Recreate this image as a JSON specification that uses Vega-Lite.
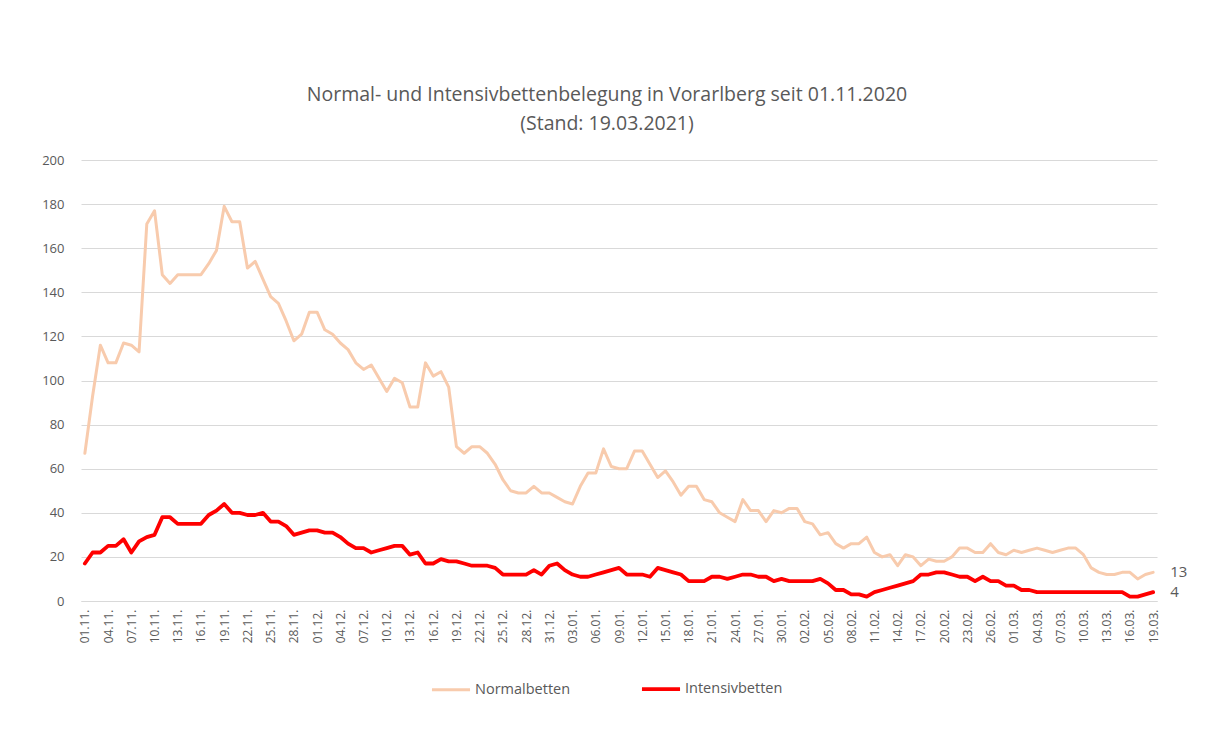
{
  "$schema": "https://vega.github.io/schema/vega-lite/v6.json",
  "width": 1076,
  "height": 441,
  "autosize": {"type": "none"},
  "padding": {"left": 81, "top": 160, "right": 55, "bottom": 130},
  "background": "white",
  "title": {
    "text": ["Normal- und Intensivbettenbelegung in Vorarlberg seit 01.11.2020", "(Stand: 19.03.2021)"],
    "font": "Open Sans",
    "fontSize": 19.5,
    "fontWeight": "normal",
    "color": "#595959",
    "lineHeight": 29,
    "anchor": "middle",
    "offset": 20,
    "dx": -12
  },
  "config": {
    "view": {"stroke": null},
    "font": "Open Sans",
    "axis": {"labelFont": "Open Sans", "labelColor": "#595959"}
  },
  "data": {
    "values": [
      {"d":"01.11.","Normalbetten":67,"Intensivbetten":17},
      {"d":"02.11.","Normalbetten":93,"Intensivbetten":22},
      {"d":"03.11.","Normalbetten":116,"Intensivbetten":22},
      {"d":"04.11.","Normalbetten":108,"Intensivbetten":25},
      {"d":"05.11.","Normalbetten":108,"Intensivbetten":25},
      {"d":"06.11.","Normalbetten":117,"Intensivbetten":28},
      {"d":"07.11.","Normalbetten":116,"Intensivbetten":22},
      {"d":"08.11.","Normalbetten":113,"Intensivbetten":27},
      {"d":"09.11.","Normalbetten":171,"Intensivbetten":29},
      {"d":"10.11.","Normalbetten":177,"Intensivbetten":30},
      {"d":"11.11.","Normalbetten":148,"Intensivbetten":38},
      {"d":"12.11.","Normalbetten":144,"Intensivbetten":38},
      {"d":"13.11.","Normalbetten":148,"Intensivbetten":35},
      {"d":"14.11.","Normalbetten":148,"Intensivbetten":35},
      {"d":"15.11.","Normalbetten":148,"Intensivbetten":35},
      {"d":"16.11.","Normalbetten":148,"Intensivbetten":35},
      {"d":"17.11.","Normalbetten":153,"Intensivbetten":39},
      {"d":"18.11.","Normalbetten":159,"Intensivbetten":41},
      {"d":"19.11.","Normalbetten":179,"Intensivbetten":44},
      {"d":"20.11.","Normalbetten":172,"Intensivbetten":40},
      {"d":"21.11.","Normalbetten":172,"Intensivbetten":40},
      {"d":"22.11.","Normalbetten":151,"Intensivbetten":39},
      {"d":"23.11.","Normalbetten":154,"Intensivbetten":39},
      {"d":"24.11.","Normalbetten":146,"Intensivbetten":40},
      {"d":"25.11.","Normalbetten":138,"Intensivbetten":36},
      {"d":"26.11.","Normalbetten":135,"Intensivbetten":36},
      {"d":"27.11.","Normalbetten":127,"Intensivbetten":34},
      {"d":"28.11.","Normalbetten":118,"Intensivbetten":30},
      {"d":"29.11.","Normalbetten":121,"Intensivbetten":31},
      {"d":"30.11.","Normalbetten":131,"Intensivbetten":32},
      {"d":"01.12.","Normalbetten":131,"Intensivbetten":32},
      {"d":"02.12.","Normalbetten":123,"Intensivbetten":31},
      {"d":"03.12.","Normalbetten":121,"Intensivbetten":31},
      {"d":"04.12.","Normalbetten":117,"Intensivbetten":29},
      {"d":"05.12.","Normalbetten":114,"Intensivbetten":26},
      {"d":"06.12.","Normalbetten":108,"Intensivbetten":24},
      {"d":"07.12.","Normalbetten":105,"Intensivbetten":24},
      {"d":"08.12.","Normalbetten":107,"Intensivbetten":22},
      {"d":"09.12.","Normalbetten":101,"Intensivbetten":23},
      {"d":"10.12.","Normalbetten":95,"Intensivbetten":24},
      {"d":"11.12.","Normalbetten":101,"Intensivbetten":25},
      {"d":"12.12.","Normalbetten":99,"Intensivbetten":25},
      {"d":"13.12.","Normalbetten":88,"Intensivbetten":21},
      {"d":"14.12.","Normalbetten":88,"Intensivbetten":22},
      {"d":"15.12.","Normalbetten":108,"Intensivbetten":17},
      {"d":"16.12.","Normalbetten":102,"Intensivbetten":17},
      {"d":"17.12.","Normalbetten":104,"Intensivbetten":19},
      {"d":"18.12.","Normalbetten":97,"Intensivbetten":18},
      {"d":"19.12.","Normalbetten":70,"Intensivbetten":18},
      {"d":"20.12.","Normalbetten":67,"Intensivbetten":17},
      {"d":"21.12.","Normalbetten":70,"Intensivbetten":16},
      {"d":"22.12.","Normalbetten":70,"Intensivbetten":16},
      {"d":"23.12.","Normalbetten":67,"Intensivbetten":16},
      {"d":"24.12.","Normalbetten":62,"Intensivbetten":15},
      {"d":"25.12.","Normalbetten":55,"Intensivbetten":12},
      {"d":"26.12.","Normalbetten":50,"Intensivbetten":12},
      {"d":"27.12.","Normalbetten":49,"Intensivbetten":12},
      {"d":"28.12.","Normalbetten":49,"Intensivbetten":12},
      {"d":"29.12.","Normalbetten":52,"Intensivbetten":14},
      {"d":"30.12.","Normalbetten":49,"Intensivbetten":12},
      {"d":"31.12.","Normalbetten":49,"Intensivbetten":16},
      {"d":"01.01.","Normalbetten":47,"Intensivbetten":17},
      {"d":"02.01.","Normalbetten":45,"Intensivbetten":14},
      {"d":"03.01.","Normalbetten":44,"Intensivbetten":12},
      {"d":"04.01.","Normalbetten":52,"Intensivbetten":11},
      {"d":"05.01.","Normalbetten":58,"Intensivbetten":11},
      {"d":"06.01.","Normalbetten":58,"Intensivbetten":12},
      {"d":"07.01.","Normalbetten":69,"Intensivbetten":13},
      {"d":"08.01.","Normalbetten":61,"Intensivbetten":14},
      {"d":"09.01.","Normalbetten":60,"Intensivbetten":15},
      {"d":"10.01.","Normalbetten":60,"Intensivbetten":12},
      {"d":"11.01.","Normalbetten":68,"Intensivbetten":12},
      {"d":"12.01.","Normalbetten":68,"Intensivbetten":12},
      {"d":"13.01.","Normalbetten":62,"Intensivbetten":11},
      {"d":"14.01.","Normalbetten":56,"Intensivbetten":15},
      {"d":"15.01.","Normalbetten":59,"Intensivbetten":14},
      {"d":"16.01.","Normalbetten":54,"Intensivbetten":13},
      {"d":"17.01.","Normalbetten":48,"Intensivbetten":12},
      {"d":"18.01.","Normalbetten":52,"Intensivbetten":9},
      {"d":"19.01.","Normalbetten":52,"Intensivbetten":9},
      {"d":"20.01.","Normalbetten":46,"Intensivbetten":9},
      {"d":"21.01.","Normalbetten":45,"Intensivbetten":11},
      {"d":"22.01.","Normalbetten":40,"Intensivbetten":11},
      {"d":"23.01.","Normalbetten":38,"Intensivbetten":10},
      {"d":"24.01.","Normalbetten":36,"Intensivbetten":11},
      {"d":"25.01.","Normalbetten":46,"Intensivbetten":12},
      {"d":"26.01.","Normalbetten":41,"Intensivbetten":12},
      {"d":"27.01.","Normalbetten":41,"Intensivbetten":11},
      {"d":"28.01.","Normalbetten":36,"Intensivbetten":11},
      {"d":"29.01.","Normalbetten":41,"Intensivbetten":9},
      {"d":"30.01.","Normalbetten":40,"Intensivbetten":10},
      {"d":"31.01.","Normalbetten":42,"Intensivbetten":9},
      {"d":"01.02.","Normalbetten":42,"Intensivbetten":9},
      {"d":"02.02.","Normalbetten":36,"Intensivbetten":9},
      {"d":"03.02.","Normalbetten":35,"Intensivbetten":9},
      {"d":"04.02.","Normalbetten":30,"Intensivbetten":10},
      {"d":"05.02.","Normalbetten":31,"Intensivbetten":8},
      {"d":"06.02.","Normalbetten":26,"Intensivbetten":5},
      {"d":"07.02.","Normalbetten":24,"Intensivbetten":5},
      {"d":"08.02.","Normalbetten":26,"Intensivbetten":3},
      {"d":"09.02.","Normalbetten":26,"Intensivbetten":3},
      {"d":"10.02.","Normalbetten":29,"Intensivbetten":2},
      {"d":"11.02.","Normalbetten":22,"Intensivbetten":4},
      {"d":"12.02.","Normalbetten":20,"Intensivbetten":5},
      {"d":"13.02.","Normalbetten":21,"Intensivbetten":6},
      {"d":"14.02.","Normalbetten":16,"Intensivbetten":7},
      {"d":"15.02.","Normalbetten":21,"Intensivbetten":8},
      {"d":"16.02.","Normalbetten":20,"Intensivbetten":9},
      {"d":"17.02.","Normalbetten":16,"Intensivbetten":12},
      {"d":"18.02.","Normalbetten":19,"Intensivbetten":12},
      {"d":"19.02.","Normalbetten":18,"Intensivbetten":13},
      {"d":"20.02.","Normalbetten":18,"Intensivbetten":13},
      {"d":"21.02.","Normalbetten":20,"Intensivbetten":12},
      {"d":"22.02.","Normalbetten":24,"Intensivbetten":11},
      {"d":"23.02.","Normalbetten":24,"Intensivbetten":11},
      {"d":"24.02.","Normalbetten":22,"Intensivbetten":9},
      {"d":"25.02.","Normalbetten":22,"Intensivbetten":11},
      {"d":"26.02.","Normalbetten":26,"Intensivbetten":9},
      {"d":"27.02.","Normalbetten":22,"Intensivbetten":9},
      {"d":"28.02.","Normalbetten":21,"Intensivbetten":7},
      {"d":"01.03.","Normalbetten":23,"Intensivbetten":7},
      {"d":"02.03.","Normalbetten":22,"Intensivbetten":5},
      {"d":"03.03.","Normalbetten":23,"Intensivbetten":5},
      {"d":"04.03.","Normalbetten":24,"Intensivbetten":4},
      {"d":"05.03.","Normalbetten":23,"Intensivbetten":4},
      {"d":"06.03.","Normalbetten":22,"Intensivbetten":4},
      {"d":"07.03.","Normalbetten":23,"Intensivbetten":4},
      {"d":"08.03.","Normalbetten":24,"Intensivbetten":4},
      {"d":"09.03.","Normalbetten":24,"Intensivbetten":4},
      {"d":"10.03.","Normalbetten":21,"Intensivbetten":4},
      {"d":"11.03.","Normalbetten":15,"Intensivbetten":4},
      {"d":"12.03.","Normalbetten":13,"Intensivbetten":4},
      {"d":"13.03.","Normalbetten":12,"Intensivbetten":4},
      {"d":"14.03.","Normalbetten":12,"Intensivbetten":4},
      {"d":"15.03.","Normalbetten":13,"Intensivbetten":4},
      {"d":"16.03.","Normalbetten":13,"Intensivbetten":2},
      {"d":"17.03.","Normalbetten":10,"Intensivbetten":2},
      {"d":"18.03.","Normalbetten":12,"Intensivbetten":3},
      {"d":"19.03.","Normalbetten":13,"Intensivbetten":4}
    ]
  },
  "transform": [{"fold": ["Normalbetten", "Intensivbetten"], "as": ["serie", "wert"]}],
  "encoding": {
    "x": {
      "field": "d",
      "type": "ordinal",
      "sort": null,
      "scale": {"type": "point", "padding": 0.5},
      "axis": {
        "title": null,
        "values": ["01.11.","04.11.","07.11.","10.11.","13.11.","16.11.","19.11.","22.11.","25.11.","28.11.","01.12.","04.12.","07.12.","10.12.","13.12.","16.12.","19.12.","22.12.","25.12.","28.12.","31.12.","03.01.","06.01.","09.01.","12.01.","15.01.","18.01.","21.01.","24.01.","27.01.","30.01.","02.02.","05.02.","08.02.","11.02.","14.02.","17.02.","20.02.","23.02.","26.02.","01.03.","04.03.","07.03.","10.03.","13.03.","16.03.","19.03."],
        "labelAngle": 270,
        "labelAlign": "right",
        "labelBaseline": "middle",
        "labelFontSize": 12,
        "labelPadding": 8,
        "labelOverlap": false,
        "ticks": false,
        "domain": true,
        "domainColor": "#d9d9d9",
        "domainWidth": 1,
        "grid": false
      }
    },
    "y": {
      "field": "wert",
      "type": "quantitative",
      "scale": {"domain": [0, 200], "nice": false},
      "axis": {
        "title": null,
        "values": [0,20,40,60,80,100,120,140,160,180,200],
        "labelFontSize": 13,
        "labelPadding": 17,
        "ticks": false,
        "domain": false,
        "grid": true,
        "gridColor": "#d9d9d9",
        "gridWidth": 1
      }
    }
  },
  "layer": [
    {
      "mark": {"type": "line", "strokeJoin": "round", "strokeCap": "round"},
      "encoding": {
        "color": {
          "field": "serie",
          "type": "nominal",
          "sort": ["Normalbetten", "Intensivbetten"],
          "scale": {"domain": ["Normalbetten", "Intensivbetten"], "range": ["#f8cbad", "#ff0000"]},
          "legend": {
            "title": null,
            "orient": "none",
            "direction": "horizontal",
            "legendX": 349,
            "legendY": 508,
            "symbolType": "stroke",
            "symbolSize": 1450,
            "symbolStrokeWidth": 3.5,
            "labelFont": "Open Sans",
            "labelFontSize": 14.5,
            "labelColor": "#595959",
            "labelOffset": 3,
            "columnPadding": 63
          }
        },
        "strokeWidth": {
          "field": "serie",
          "type": "nominal",
          "scale": {"domain": ["Normalbetten", "Intensivbetten"], "range": [3, 3.8]},
          "legend": null
        }
      }
    },
    {
      "transform": [{"filter": "datum.d == '19.03.'"}],
      "mark": {"type": "text", "align": "left", "baseline": "middle", "dx": 17, "fontSize": 15, "color": "#595959", "font": "Open Sans"},
      "encoding": {"text": {"field": "wert", "type": "quantitative"}}
    }
  ]
}
